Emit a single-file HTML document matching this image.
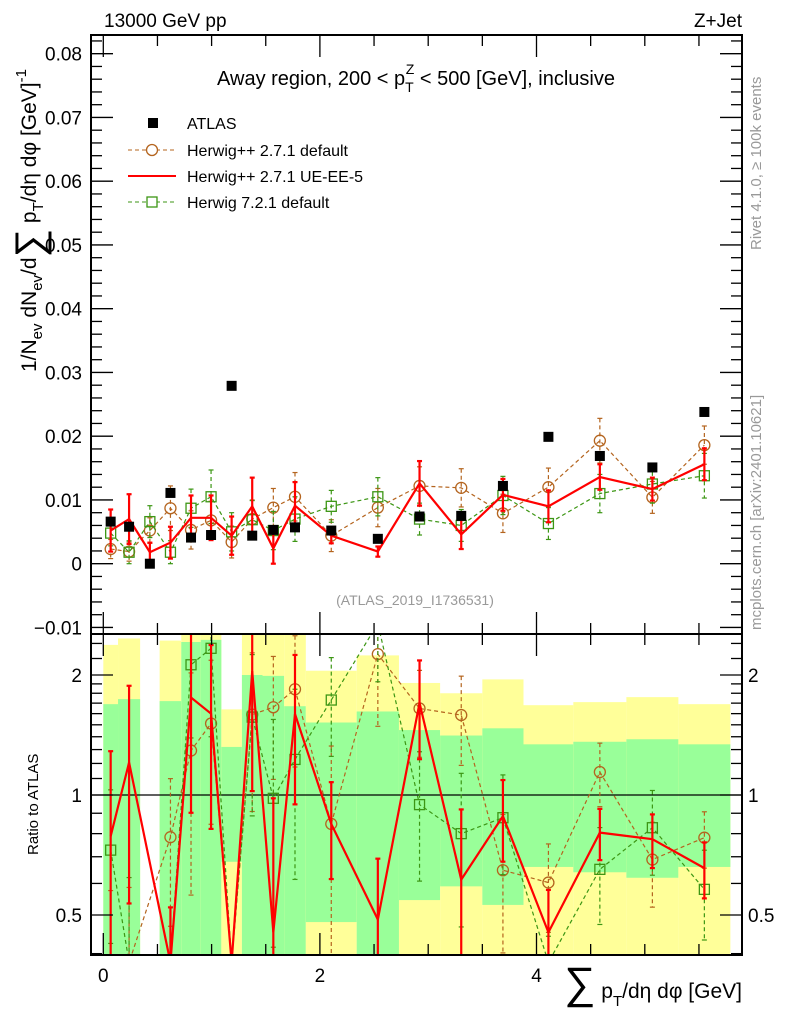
<!DOCTYPE html>
<html><head><meta charset="utf-8"><style>
html,body{margin:0;padding:0;background:#fff;width:786px;height:1024px;overflow:hidden;}
svg{display:block;font-family:"Liberation Sans",sans-serif;}
</style></head><body>
<svg id="plot" width="786" height="1024" viewBox="0 0 786 1024" xmlns="http://www.w3.org/2000/svg">
<defs>
<clipPath id="clipMain"><rect x="91" y="35" width="651" height="599"/></clipPath>
<clipPath id="clipRatio"><rect x="91" y="634" width="651" height="321"/></clipPath>
</defs>
<g id="bandsLayer" clip-path="url(#clipRatio)"></g>
<g id="marksLayer"></g>
<g id="axesLayer"></g>
<text x="104" y="27" font-size="19">13000 GeV pp</text>
<text x="742" y="27" font-size="19" text-anchor="end">Z+Jet</text>
<text x="416" y="85" font-size="20" text-anchor="middle">Away region, 200 &lt; p<tspan font-size="14" dy="7">T</tspan><tspan font-size="14" dx="-8" dy="-18">Z</tspan><tspan dy="11"> &lt; 500 [GeV], inclusive</tspan></text>
<text x="415" y="605" font-size="14" fill="#999" text-anchor="middle">(ATLAS_2019_I1736531)</text>
<text transform="translate(761,250) rotate(-90)" font-size="15" fill="#999">Rivet 4.1.0, ≥ 100k events</text>
<text transform="translate(761,630) rotate(-90)" font-size="15" fill="#999">mcplots.cern.ch [arXiv:2401.10621]</text>
<text transform="translate(36,372) rotate(-90)" font-size="21">1/N<tspan font-size="15" dy="6">ev</tspan><tspan dy="-6"> dN</tspan><tspan font-size="15" dy="6">ev</tspan><tspan dy="-6">/d</tspan><tspan font-size="40" dy="7">∑</tspan><tspan dy="-7"> p</tspan><tspan font-size="15" dy="7">T</tspan><tspan dy="-7">/dη dφ  [GeV]</tspan><tspan font-size="15" dy="-10">-1</tspan></text>
<text transform="translate(38,855) rotate(-90)" font-size="15">Ratio to ATLAS</text>
<text x="742" y="998" font-size="21" text-anchor="end"><tspan font-size="44">∑</tspan> p<tspan font-size="15" dy="8">T</tspan><tspan dy="-8">/dη dφ [GeV]</tspan></text>
<g>
<rect x="148" y="118" width="10" height="10" fill="#000"/>
<text x="187" y="129" font-size="16">ATLAS</text>
<line x1="128" y1="150" x2="176" y2="150" stroke="#b4641e" stroke-dasharray="4,3"/>
<circle cx="152" cy="150" r="5.5" fill="#fff" stroke="#b4641e" stroke-width="1.3"/>
<text x="187" y="156" font-size="16">Herwig++ 2.7.1 default</text>
<line x1="128" y1="176" x2="176" y2="176" stroke="#ff0000" stroke-width="2"/>
<text x="187" y="182" font-size="16">Herwig++ 2.7.1 UE-EE-5</text>
<line x1="128" y1="202" x2="176" y2="202" stroke="#3c9614" stroke-dasharray="4,3"/>
<rect x="147" y="197" width="10" height="10" fill="#fff" stroke="#3c9614" stroke-width="1.3"/>
<text x="187" y="208" font-size="16">Herwig 7.2.1 default</text>
</g>
</svg>
<script>
var chartBinEdges=[0,0.136,0.34,0.52,0.72,0.9,1.09,1.28,1.47,1.67,1.87,2.34,2.73,3.11,3.5,3.88,4.34,4.83,5.31,5.79];
var chartAtlas=[0.0066,0.0058,0.0,0.0111,0.0041,0.0045,0.0279,0.0044,0.0053,0.0057,0.0052,0.0039,0.0074,0.0075,0.0122,0.0199,0.0169,0.0151,0.0238];
var chartStatRel=[0.69,0.74,null,0.72,1.42,1.45,0.32,1.0,0.99,0.67,0.52,0.62,0.455,0.41,0.47,0.34,0.36,0.38,0.34];
var chartTotRel=[1.38,1.47,null,1.44,2.0,2.0,0.64,1.7,1.7,1.7,1.05,1.24,0.91,0.8,0.95,0.68,0.71,0.76,0.69];
var chartHppDef=[0.0023,0.0019,0.0052,0.0087,0.0053,0.0068,0.0034,0.0070,0.0088,0.0105,0.0044,0.0088,0.0122,0.0119,0.0079,0.012,0.0193,0.0104,0.0186];
var chartHppDefErr=[0.0015,0.0015,0.002,0.0035,0.003,0.003,0.0025,0.003,0.003,0.0038,0.0025,0.003,0.003,0.003,0.003,0.003,0.0035,0.0025,0.003];
var chartUeee5=[0.0052,0.0070,0.0018,0.0033,0.0072,0.0072,0.0044,0.0090,0.0024,0.0091,0.0044,0.0019,0.0126,0.0046,0.0108,0.0090,0.0136,0.0117,0.0156];
var chartUeee5Err=[0.0033,0.0039,0.0015,0.0025,0.0035,0.0035,0.003,0.0045,0.0028,0.0037,0.0012,0.0008,0.0035,0.0023,0.0025,0.0025,0.002,0.0018,0.0025];
var chartH7Def=[0.0048,0.0018,0.0066,0.0018,0.0087,0.0105,0.0050,0.0069,0.0052,0.0070,0.0090,0.0105,0.0070,0.0060,0.0107,0.0063,0.0110,0.0125,0.0138];
var chartH7DefErr=[0.002,0.0018,0.0025,0.0018,0.003,0.0042,0.003,0.003,0.003,0.0035,0.0025,0.003,0.0025,0.0025,0.003,0.0025,0.003,0.003,0.0035];
var chartYTicks=[-0.01,0,0.01,0.02,0.03,0.04,0.05,0.06,0.07,0.08];
var chartYTickLabels=["\u22120.01","0","0.01","0.02","0.03","0.04","0.05","0.06","0.07","0.08"];
var chartXTicks=[0,2,4];
var chartXTickLabels=["0","2","4"];
var chartRTicks=[0.5,1,2];
var chartRTickLabels=["0.5","1","2"];

(function(){
var NS="http://www.w3.org/2000/svg";
var L=91,R=742,T=35,MB=634,RB=955;
var RMIN=0.38,RMAX=2.7;
function X(v){return 103.3+v*108.3;}
function Y(v){return 563.7-v*6375;}
function RY(r){r=Math.min(Math.max(r,RMIN),RMAX);return 795-120*Math.log2(r);}
function mk(tag,attrs,parent){var el=document.createElementNS(NS,tag);for(var k in attrs)el.setAttribute(k,attrs[k]);parent.appendChild(el);return el;}
var bandsG=document.getElementById('bandsLayer'),marksG=document.getElementById('marksLayer'),axesG=document.getElementById('axesLayer');
var centers=chartAtlas.map(function(_,i){return (chartBinEdges[i]+chartBinEdges[i+1])/2;});

for(var i=0;i<chartAtlas.length;i++){
  if(chartTotRel[i]==null)continue;
  var x1=X(chartBinEdges[i]),x2=X(chartBinEdges[i+1]);
  var yt=RY(1+chartTotRel[i]),yb=chartTotRel[i]>=0.99?RB:Math.min(RB,RY(1-chartTotRel[i]));
  var el=mk('rect',{x:x1,y:yt,width:x2-x1,height:yb-yt,fill:'#ffff99'},bandsG);
  
  
  var gt=RY(1+chartStatRel[i]),gb=chartStatRel[i]>=0.99?RB:Math.min(RB,RY(1-chartStatRel[i]));
  el=mk('rect',{x:x1,y:gt,width:x2-x1,height:gb-gt,fill:'#99ff99'},bandsG);
  
  
}
var uline=mk('line',{x1:L,y1:RY(1),x2:R,y2:RY(1),stroke:'#000','stroke-width':1.3},bandsG);



var gm=mk('g',{'clip-path':'url(#clipMain)'},marksG);
var gr=mk('g',{'clip-path':'url(#clipRatio)'},marksG);

function series(vals,errs,color,width,dash,marker,name){
  var pts=vals.map(function(v,i){return X(centers[i])+','+Y(v);}).join(' ');
  var p=mk('polyline',{points:pts,fill:'none',stroke:color,'stroke-width':width,'stroke-dasharray':dash},gm);
  
  
  var rp=[];
  vals.forEach(function(v,i){if(chartAtlas[i]>0)rp.push(X(centers[i])+','+RY(v/chartAtlas[i]));});
  p=mk('polyline',{points:rp.join(' '),fill:'none',stroke:color,'stroke-width':width,'stroke-dasharray':dash},gr);
  
  
  vals.forEach(function(v,i){
    var cx=X(centers[i]);
    function draw(g,yc,y1,y2,nm,showMarker){
      var l=mk('line',{x1:cx,y1:y1,x2:cx,y2:y2,stroke:color,'stroke-width':width,'stroke-dasharray':dash},g);
      
      
      [y1,y2].forEach(function(yy){mk('line',{x1:cx-2.5,x2:cx+2.5,y1:yy,y2:yy,stroke:color,'stroke-width':width},g);});
      var m=null;
      if(!showMarker)return;
      if(marker==='circle'){m=mk('circle',{cx:cx,cy:yc,r:5.5,fill:'none',stroke:color,'stroke-width':1.3},g);}
      else if(marker==='square'){m=mk('rect',{x:cx-5,y:yc-5,width:10,height:10,fill:'none',stroke:color,'stroke-width':1.3},g);}
      if(m){}
    }
    draw(gm,Y(v),Y(v+errs[i]),Y(Math.max(v-errs[i],0)),name,true);
    if(chartAtlas[i]>0){
      var r=v/chartAtlas[i],re=errs[i]/chartAtlas[i];
      var inRange=(r>0.4&&r<2.55);
      draw(gr,RY(r),RY(r+re),RY(r-re),name+'-ratio',inRange);
    }
  });
}
series(chartHppDef,chartHppDefErr,'#b4641e',1.2,'4,3','circle','herwigpp-default');
series(chartH7Def,chartH7DefErr,'#3c9614',1.2,'4,3','square','herwig7-default');
series(chartUeee5,chartUeee5Err,'#ff0000',2.2,'none','none','herwigpp-ueee5');
chartAtlas.forEach(function(v,i){
  var m=mk('rect',{x:X(centers[i])-5,y:Y(v)-5,width:10,height:10,fill:'#000'},gm);
  
  
});

[[T,MB],[MB,RB]].forEach(function(ab,k){
  var f=mk('rect',{x:L,y:ab[0],width:R-L,height:ab[1]-ab[0],fill:'none',stroke:'#000','stroke-width':2},axesG);
  
  
});
for(var k=-5;k<=41;k++){
  var yv=Y(k*0.002);if(yv<T||yv>MB)continue;
  var len=(k%5===0)?22:11;
  mk('line',{x1:L,x2:L+len,y1:yv,y2:yv,stroke:'#000','stroke-width':1.3},axesG);
  mk('line',{x1:R,x2:R-len,y1:yv,y2:yv,stroke:'#000','stroke-width':1.3},axesG);
}
chartYTicks.forEach(function(v,i){
  var t=mk('text',{x:82,y:Y(v)+7,'font-size':19,'text-anchor':'end'},axesG);t.textContent=chartYTickLabels[i];
  
  
});
for(var k2=0;k2<=11;k2++){
  var xv=X(k2*0.5);if(xv>R)continue;
  var len2=(k2%4===0)?22:11;
  [T,MB].forEach(function(y0){mk('line',{x1:xv,x2:xv,y1:y0,y2:y0+len2,stroke:'#000','stroke-width':1.3},axesG);});
  [MB,RB].forEach(function(y0){mk('line',{x1:xv,x2:xv,y1:y0,y2:y0-len2,stroke:'#000','stroke-width':1.3},axesG);});
}
chartXTicks.forEach(function(v,i){
  var t=mk('text',{x:X(v),y:982,'font-size':19,'text-anchor':'middle'},axesG);t.textContent=chartXTickLabels[i];
  
  
});
[0.4,0.5,0.6,0.7,0.8,0.9,1,1.1,1.2,1.3,1.4,1.5,1.6,1.7,1.8,1.9,2,2.2,2.4].forEach(function(r){
  var y=795-120*Math.log2(r);if(y<MB||y>RB)return;
  var ln=(r===0.5||r===1||r===2)?22:11;
  mk('line',{x1:L,x2:L+ln,y1:y,y2:y,stroke:'#000','stroke-width':1.3},axesG);
  mk('line',{x1:R,x2:R-ln,y1:y,y2:y,stroke:'#000','stroke-width':1.3},axesG);
});
chartRTicks.forEach(function(r,i){
  var t=mk('text',{x:82,y:RY(r)+7,'font-size':19,'text-anchor':'end'},axesG);t.textContent=chartRTickLabels[i];
  
  
  t=mk('text',{x:748,y:RY(r)+7,'font-size':19},axesG);t.textContent=chartRTickLabels[i];
  
  
});
})();
</script>
</body></html>
